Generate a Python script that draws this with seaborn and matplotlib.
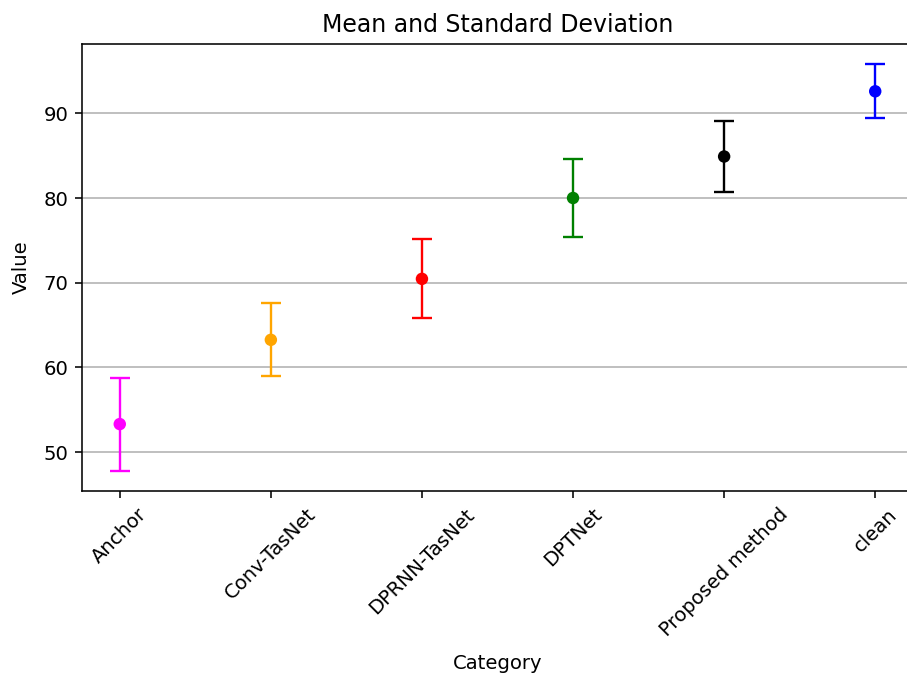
import matplotlib
matplotlib.use("Agg")
import matplotlib.pyplot as plt
import seaborn as sns
import pandas as pd

categories = ["Anchor", "Conv-TasNet", "DPRNN-TasNet", "DPTNet", "Proposed method", "clean"]
means = [53.3, 63.25, 70.45, 80.0, 84.9, 92.6]
stds = [5.5, 4.3, 4.65, 4.65, 4.2, 3.2]
colors = ["magenta", "orange", "red", "green", "black", "blue"]

df = pd.DataFrame({"Category": categories, "Value": means, "std": stds})

plt.rcParams["font.family"] = ["DejaVu Sans"]
fig = plt.figure(figsize=(6.4, 4.785), dpi=141.72)
ax = fig.add_axes([0.0904, 0.2758, 0.9162, 0.6593])

for i, row in df.iterrows():
    ax.errorbar(i, row["Value"], yerr=row["std"], fmt="none", ecolor=colors[i],
                capsize=5, elinewidth=1.2, capthick=1.2, zorder=3)

sns.scatterplot(data=df, x=list(range(len(categories))), y="Value", hue="Category",
                palette=colors, s=40, linewidth=0, legend=False, ax=ax, zorder=4)

ax.set_xticks(range(len(categories)))
ax.set_xticklabels(categories, rotation=45)
ax.set_xlim(-0.25, len(categories) - 0.75)
ax.set_yticks([50, 60, 70, 80, 90])
ax.yaxis.grid(True, color="#b0b0b0", linewidth=0.8)
ax.set_axisbelow(True)
ax.set_title("Mean and Standard Deviation")
ax.set_xlabel("Category", labelpad=7)
ax.set_ylabel("Value", labelpad=6.5)

fig.savefig("out.png", dpi=141.72)
